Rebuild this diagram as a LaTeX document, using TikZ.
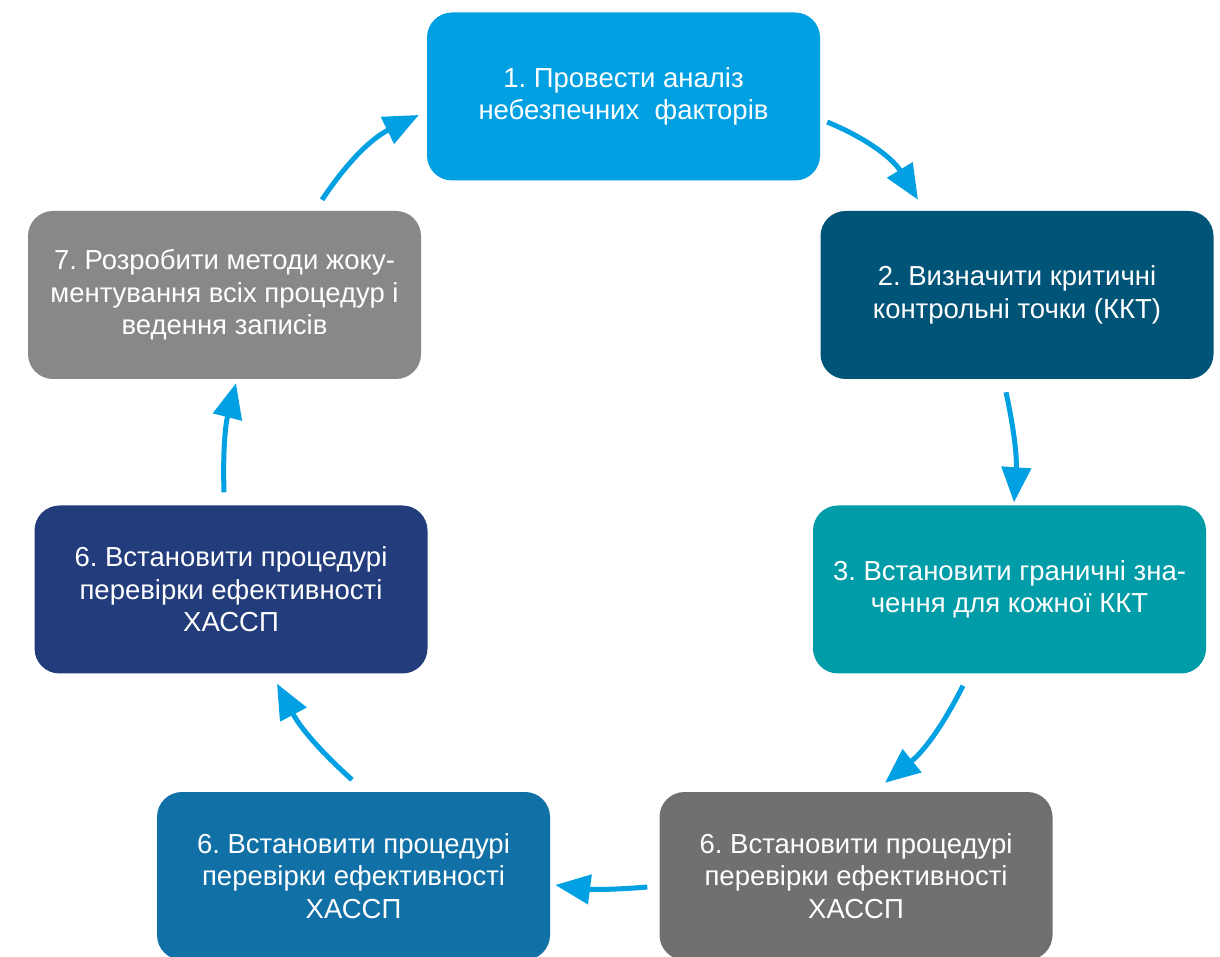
\documentclass[tikz,border=0pt]{standalone}
\usepackage{fontspec}
\setmainfont{Liberation Sans}
\usepackage{xcolor}
\usetikzlibrary{arrows.meta}

\definecolor{stepA}{RGB}{0,160,227}
\definecolor{stepB}{RGB}{0,84,120}
\definecolor{stepC}{RGB}{0,156,168}
\definecolor{stepD}{RGB}{112,112,112}
\definecolor{stepE}{RGB}{17,112,166}
\definecolor{stepF}{RGB}{34,60,124}
\definecolor{stepG}{RGB}{136,136,136}

\frenchspacing
\begin{document}
\begin{tikzpicture}[
    x=1pt, y=1pt,
    box/.style={rounded corners=25pt, align=center, text=white, inner sep=0pt,
      minimum height=168pt, minimum width=393pt,
      font=\fontsize{27.5}{32.5}\selectfont},
    arrow/.style={-{Triangle[length=35pt, width=29pt]}, line width=5pt, stepA}
  ]
    \useasboundingbox (0,0) rectangle (1220,956);

    \node[box, fill=stepA] (analysis) at (623.5,859.5) {1. Провести аналіз\\небезпечних\ \ факторів};
    \node[box, fill=stepB] (ccp) at (1017,661) {2. Визначити критичні\\контрольні точки (ККТ)};
    \node[box, fill=stepC] (limits) at (1009.5,366.5) {3. Встановити граничні зна-\\чення для кожної ККТ};
    \node[box, fill=stepD] (verifyR) at (856,80) {6. Встановити процедурі\\перевірки ефективності\\ХАССП};
    \node[box, fill=stepE] (verifyL) at (353.5,80) {6. Встановити процедурі\\перевірки ефективності\\ХАССП};
    \node[box, fill=stepF] (verifyU) at (231,366.5) {6. Встановити процедурі\\перевірки ефективності\\ХАССП};
    \node[box, fill=stepG] (records) at (224.5,661) {7. Розробити методи жоку-\\ментування всіх процедур і\\ведення записів};

    \draw[arrow] ([shift={(7,-25.5)}]analysis.east) to[bend left=18] ([shift={(-99,11)}]ccp.north);
    \draw[arrow] ([shift={(-11,-13)}]ccp.south) to[bend left=8] ([shift={(4.5,3)}]limits.north);
    \draw[arrow] ([shift={(-46.5,-12)}]limits.south) to[bend left=12] ([shift={(29,9)}]verifyR.north);
    \draw[arrow] ([shift={(-12,-11)}]verifyR.west) to[bend left=6] ([shift={(5,-9)}]verifyL.east);
    \draw[arrow] ([shift={(-1.5,12)}]verifyL.north) to[bend left=10] ([shift={(46,-10)}]verifyU.south);
    \draw[arrow] ([shift={(-7,13)}]verifyU.north) to[bend left=8] ([shift={(11.5,-4)}]records.south);
    \draw[arrow] ([shift={(97.5,11)}]records.north) to[bend left=15] ([shift={(-8,-18.5)}]analysis.west);
  \end{tikzpicture}
\end{document}
